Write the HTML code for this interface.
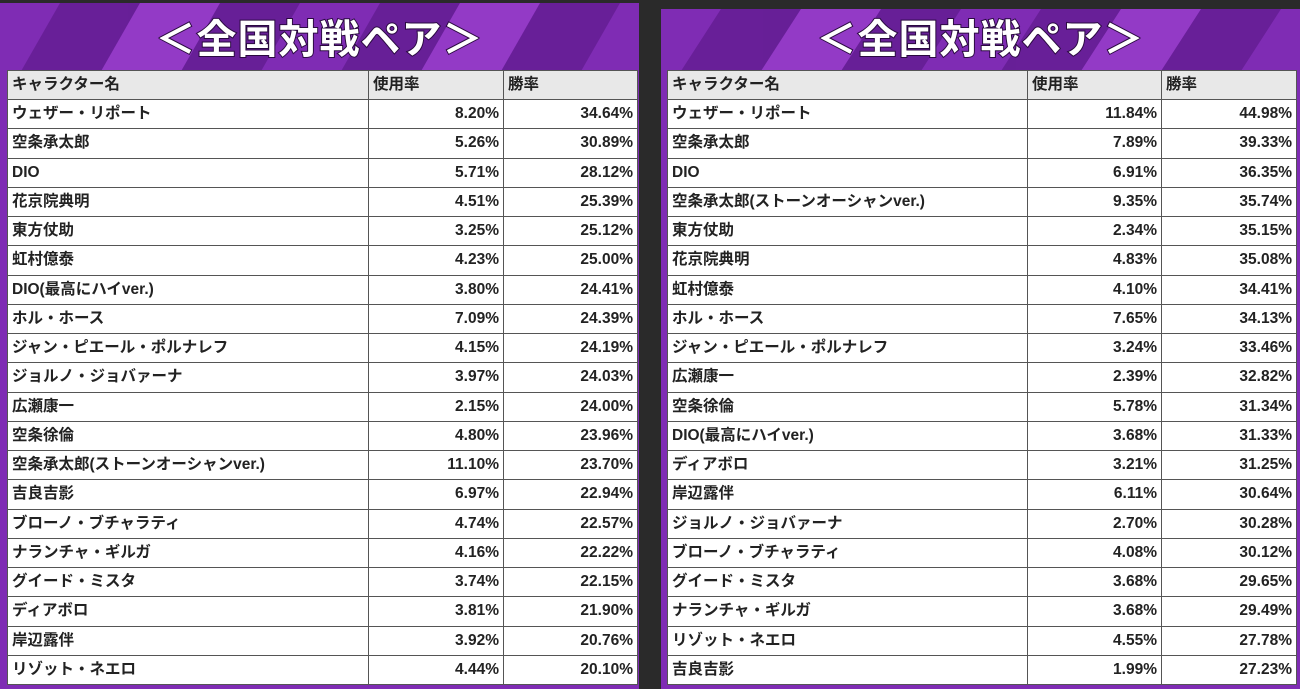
<!DOCTYPE html>
<html><head><meta charset="utf-8"><style>
body{margin:0;width:1300px;height:689px;background:#2a2a2a;overflow:hidden;font-family:"Liberation Sans","Noto Sans CJK JP",sans-serif;}
.panel{position:absolute;overflow:hidden;background:#7f2cb4;}
.bg{position:absolute;left:0;top:0;width:100%;height:100%;}
.title{position:absolute;left:0;width:100%;top:4px;text-align:center;font-size:40px;font-weight:bold;color:#fff;-webkit-text-stroke:2px #2a0a40;paint-order:stroke fill;letter-spacing:1px;font-family:"Noto Sans CJK JP",sans-serif;line-height:58px;}
table{position:absolute;border-collapse:collapse;background:#fff;font-weight:bold;font-size:15.5px;color:#222;table-layout:fixed;}
td{border:1px solid #555;height:29.25px;padding:0 4px;box-sizing:border-box;white-space:nowrap;line-height:20px;vertical-align:middle;}
tr.h td{background:#e8e8e8;height:29px;}
td.n{text-align:right;}
</style></head><body>
<div class="panel" style="left:0;top:3px;width:639px;height:686px">
<svg class="bg"><g fill="#5e1a8c" opacity="0.7"><polygon points="60,0 140,0 100,70 20,70"/><polygon points="220,0 300,0 260,70 180,70"/><polygon points="380,0 460,0 420,70 340,70"/><polygon points="540,0 620,0 580,70 500,70"/></g><g fill="#a848d8" opacity="0.5"><polygon points="140,0 220,0 180,70 100,70"/><polygon points="460,0 540,0 500,70 420,70"/></g></svg>
<div class="title">＜全国対戦ペア＞</div>
<table style="left:7px;top:67px;width:630px">
<colgroup><col style="width:361px"><col style="width:135px"><col style="width:134px"></colgroup>
<tbody id="tl"></tbody></table>
</div>
<div class="panel" style="left:661px;top:9px;width:639px;height:680px">
<svg class="bg"><g fill="#5e1a8c" opacity="0.7"><polygon points="60,0 140,0 100,62 20,62"/><polygon points="220,0 300,0 260,62 180,62"/><polygon points="380,0 460,0 420,62 340,62"/><polygon points="540,0 620,0 580,62 500,62"/></g><g fill="#a848d8" opacity="0.5"><polygon points="140,0 220,0 180,62 100,62"/><polygon points="460,0 540,0 500,62 420,62"/></g></svg>
<div class="title" style="top:-2px">＜全国対戦ペア＞</div>
<table style="left:6px;top:61px;width:629px">
<colgroup><col style="width:360px"><col style="width:134px"><col style="width:135px"></colgroup>
<tbody id="tr"></tbody></table>
</div>
<script>
const leftNames=["ウェザー・リポート","空条承太郎","DIO","花京院典明","東方仗助","虹村億泰","DIO(最高にハイver.)","ホル・ホース","ジャン・ピエール・ポルナレフ","ジョルノ・ジョバァーナ","広瀬康一","空条徐倫","空条承太郎(ストーンオーシャンver.)","吉良吉影","ブローノ・ブチャラティ","ナランチャ・ギルガ","グイード・ミスタ","ディアボロ","岸辺露伴","リゾット・ネエロ"];
const leftUsage=["8.20%","5.26%","5.71%","4.51%","3.25%","4.23%","3.80%","7.09%","4.15%","3.97%","2.15%","4.80%","11.10%","6.97%","4.74%","4.16%","3.74%","3.81%","3.92%","4.44%"];
const leftWin=["34.64%","30.89%","28.12%","25.39%","25.12%","25.00%","24.41%","24.39%","24.19%","24.03%","24.00%","23.96%","23.70%","22.94%","22.57%","22.22%","22.15%","21.90%","20.76%","20.10%"];
const rightNames=["ウェザー・リポート","空条承太郎","DIO","空条承太郎(ストーンオーシャンver.)","東方仗助","花京院典明","虹村億泰","ホル・ホース","ジャン・ピエール・ポルナレフ","広瀬康一","空条徐倫","DIO(最高にハイver.)","ディアボロ","岸辺露伴","ジョルノ・ジョバァーナ","ブローノ・ブチャラティ","グイード・ミスタ","ナランチャ・ギルガ","リゾット・ネエロ","吉良吉影"];
const rightUsage=["11.84%","7.89%","6.91%","9.35%","2.34%","4.83%","4.10%","7.65%","3.24%","2.39%","5.78%","3.68%","3.21%","6.11%","2.70%","4.08%","3.68%","3.68%","4.55%","1.99%"];
const rightWin=["44.98%","39.33%","36.35%","35.74%","35.15%","35.08%","34.41%","34.13%","33.46%","32.82%","31.34%","31.33%","31.25%","30.64%","30.28%","30.12%","29.65%","29.49%","27.78%","27.23%"];
function build(id,names,usage,win){
 const tb=document.getElementById(id);
 const h=document.createElement('tr');h.className='h';
 
 
 ["キャラクター名","使用率","勝率"].forEach(t=>{const td=document.createElement('td');td.textContent=t;
 
 
 h.appendChild(td);});
 tb.appendChild(h);
 names.forEach((n,i)=>{const r=document.createElement('tr');
 
 
 [[n,''],[usage[i],'n'],[win[i],'n']].forEach(([t,c])=>{const td=document.createElement('td');td.textContent=t;td.className=c;
 
 
 r.appendChild(td);});
 tb.appendChild(r);});
}
build('tl',leftNames,leftUsage,leftWin);
build('tr',rightNames,rightUsage,rightWin);
</script>
</body></html>
